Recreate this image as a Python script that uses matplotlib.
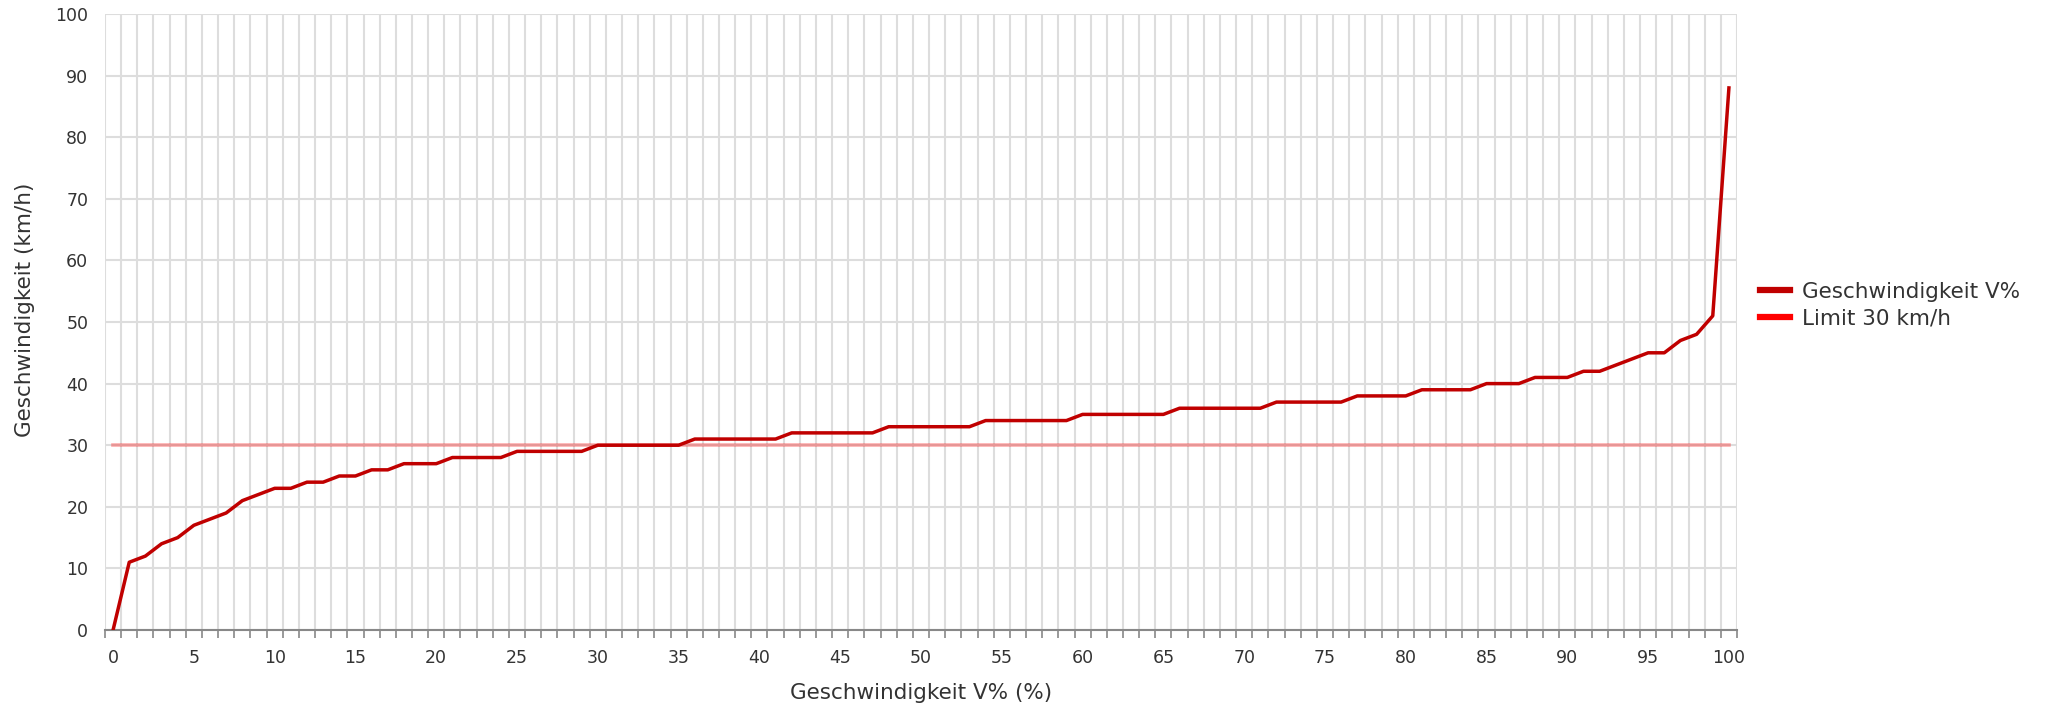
import matplotlib
matplotlib.use("Agg")
import matplotlib.pyplot as plt
import matplotlib.ticker as mticker
from matplotlib.lines import Line2D

# Daten: Kategorien 0..100 (V%)
kategorien = list(range(0, 101))
geschwindigkeit = [
    0, 11, 12, 14, 15, 17, 18, 19, 21, 22,
    23, 23, 24, 24, 25, 25, 26, 26, 27, 27,
    27, 28, 28, 28, 28, 29, 29, 29, 29, 29,
    30, 30, 30, 30, 30, 30, 31, 31, 31, 31,
    31, 31, 32, 32, 32, 32, 32, 32, 33, 33,
    33, 33, 33, 33, 34, 34, 34, 34, 34, 34,
    35, 35, 35, 35, 35, 35, 36, 36, 36, 36,
    36, 36, 37, 37, 37, 37, 37, 38, 38, 38,
    38, 39, 39, 39, 39, 40, 40, 40, 41, 41,
    41, 42, 42, 43, 44, 45, 45, 47, 48, 51,
    88,
]
limit = [30] * len(kategorien)
x_labels = [str(k) for k in range(0, 101, 5)]

text_col = "#333333"
grid_col = "#dddddd"

fig = plt.figure(figsize=(20.51, 7.07), dpi=100)
ax = fig.add_axes([105 / 2051, 1 - 630 / 707, (1737 - 105) / 2051, (630 - 14) / 707])

ax.plot(kategorien, limit, color=(1, 0, 0, 0.32), linewidth=2.6, zorder=3)
ax.plot(kategorien, geschwindigkeit, color="#c00000", linewidth=2.5, zorder=4)

ax.set_xlim(-0.5, 100.5)
ax.set_ylim(0, 100)

# x-Achse: Beschriftung alle 5, Gitter an den Kategoriegrenzen
ax.xaxis.set_major_locator(mticker.FixedLocator(range(0, 101, 5)))
ax.set_xticklabels(x_labels)
ax.xaxis.set_minor_locator(mticker.FixedLocator([k - 0.5 for k in range(0, 102)]))
ax.yaxis.set_major_locator(mticker.MultipleLocator(10))

ax.tick_params(axis="x", which="major", length=0, pad=14, labelsize=12.5, labelcolor=text_col)
ax.tick_params(axis="x", which="minor", length=6, width=1.2, color="#888888", direction="out")
ax.tick_params(axis="y", which="major", length=0, pad=12, labelsize=12.5, labelcolor=text_col)

ax.grid(axis="x", which="minor", color=grid_col, linewidth=1.5, zorder=0)
ax.grid(axis="y", which="major", color=grid_col, linewidth=1.5, zorder=0)
ax.set_axisbelow(True)

for s in ["left", "right", "top"]:
    ax.spines[s].set_visible(False)
ax.spines["bottom"].set_color("#888888")
ax.spines["bottom"].set_linewidth(1.5)

ax.set_xlabel("Geschwindigkeit V% (%)", fontsize=15.5, color=text_col)
ax.set_ylabel("Geschwindigkeit (km/h)", fontsize=15.5, color=text_col)
ax.xaxis.set_label_coords(0.5, -0.086)
ax.yaxis.set_label_coords(-0.043, 0.52)

handles = [
    Line2D([], [], color="#c00000", linewidth=4.5),
    Line2D([], [], color="#ff0000", linewidth=4.5),
]
fig.legend(handles, ["Geschwindigkeit V%", "Limit 30 km/h"],
           loc="center left", bbox_to_anchor=(1760 / 2051, 1 - 305 / 707),
           frameon=False, fontsize=15.5, borderpad=0, borderaxespad=0,
           handlelength=1.4, handletextpad=0.55, labelspacing=0.3,
           labelcolor=text_col)

fig.savefig("out.png", dpi=100)
